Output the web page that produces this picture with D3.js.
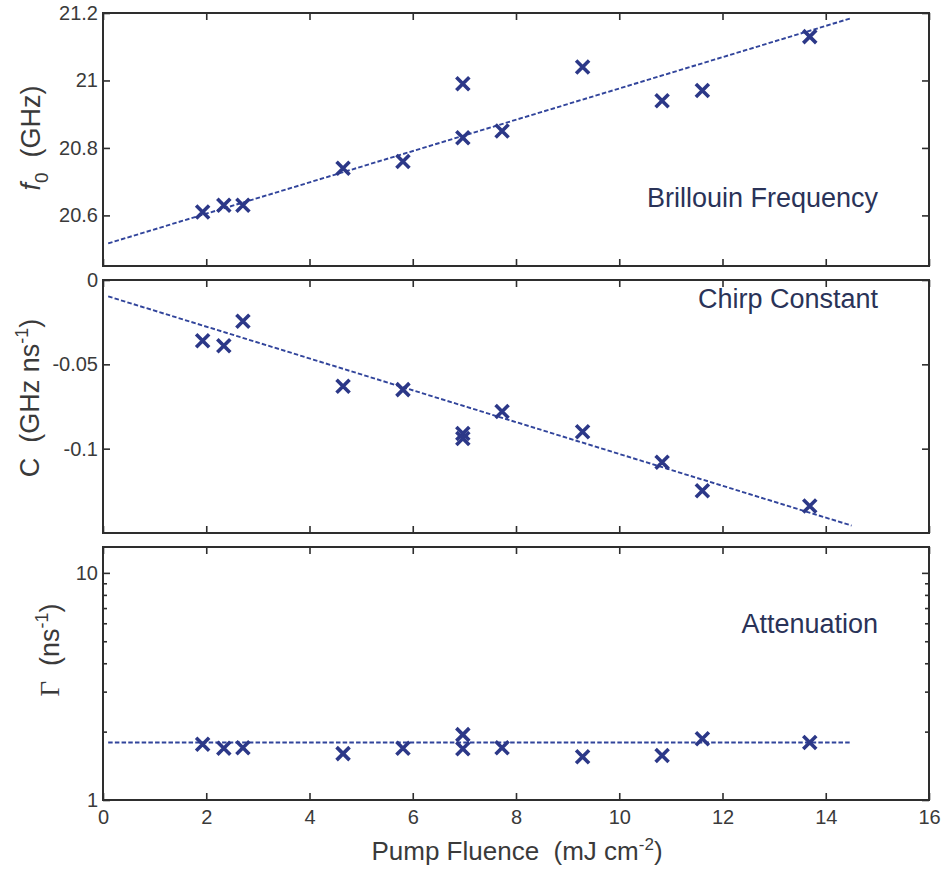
<!DOCTYPE html>
<html>
<head>
<meta charset="utf-8">
<script src="https://cdn.jsdelivr.net/npm/d3@7/dist/d3.min.js"></script>
<style>
  html, body { margin: 0; padding: 0; background: #fff; }
  svg { display: block; font-family: "Liberation Sans", Arial, Helvetica, sans-serif; }
  svg text { white-space: pre; }
</style>
</head>
<body>
<svg id="chart" width="946" height="869"></svg>
<script>
// Pump fluence (mJ cm^-2) for each measurement
const fluence = [1.93, 2.34, 2.71, 4.65, 5.81, 6.97, 6.97, 7.73, 9.29, 10.83, 11.61, 13.69];
// Brillouin frequency f0 (GHz)
const freq = [20.61, 20.63, 20.63, 20.74, 20.76, 20.99, 20.83, 20.85, 21.04, 20.94, 20.97, 21.13];
// Chirp constant C (GHz ns^-1)
const chirp = [-0.036, -0.039, -0.0245, -0.063, -0.065, -0.091, -0.094, -0.078, -0.090, -0.108, -0.125, -0.134];
// Attenuation Gamma (ns^-1)
const atten = [1.76, 1.69, 1.70, 1.60, 1.69, 1.94, 1.68, 1.70, 1.55, 1.57, 1.86, 1.79];

// Linear fit lines (end points)
const fitX = [0.1, 14.5];
const fitFreq = [20.517, 21.185];
const fitChirp = [-0.0097, -0.1456];
const fitAtten = [1.79, 1.79];

// Tick values and labels
const xTicks = [0, 2, 4, 6, 8, 10, 12, 14, 16];
const freqTicks = [20.6, 20.8, 21, 21.2];
const freqTickLabels = ["20.6", "20.8", "21", "21.2"];
const chirpTicks = [0, -0.05, -0.1];
const chirpTickLabels = ["0", "-0.05", "-0.1"];
const attenTicks = [1, 10];
const attenTickLabels = ["1", "10"];
const attenMinor = [2, 3, 4, 5, 6, 7, 8, 9];

const panelLabels = ["Brillouin Frequency", "Chirp Constant", "Attenuation"];

const svg = d3.select("#chart");
const markColor = "#2c3888";
const lineColor = "#31449b";
const axisColor = "#2e2e2e";
const textColor = "#3a3a3a";
const labelColor = "#2a3358";

const left = 103, right = 929, panelH = 253;
const tops = [13, 280, 547];
const tickLen = 7, minorLen = 4;

const x = d3.scaleLinear().domain([0, 16]).range([left, right]);

const panels = [
  { y: d3.scaleLinear().domain([20.45, 21.2]), vals: freq, fit: fitFreq,
    ticks: freqTicks, tickLabels: freqTickLabels, minor: [], label: panelLabels[0],
    labelPos: [878, 207] },
  { y: d3.scaleLinear().domain([-0.15, 0]), vals: chirp, fit: fitChirp,
    ticks: chirpTicks, tickLabels: chirpTickLabels, minor: [], label: panelLabels[1],
    labelPos: [878, 308] },
  { y: d3.scaleLog().domain([1, 13]), vals: atten, fit: fitAtten,
    ticks: attenTicks, tickLabels: attenTickLabels, minor: attenMinor, label: panelLabels[2],
    labelPos: [878, 633] }
];

panels.forEach((p, i) => {
  const top = tops[i], bottom = top + panelH;
  p.y.range([bottom, top]);
  const g = svg.append("g");

  // y axis left (ticks pointing inward)
  const yl = d3.axisLeft(p.y).tickValues(p.ticks)
    .tickFormat((d, k) => p.tickLabels[k]).tickSizeInner(-tickLen).tickSizeOuter(0).tickPadding(5);
  g.append("g").attr("transform", `translate(${left},0)`).call(yl);
  // y axis right
  g.append("g").attr("transform", `translate(${right},0)`)
    .call(d3.axisRight(p.y).tickValues(p.ticks).tickFormat("").tickSizeInner(-tickLen).tickSizeOuter(0));
  // minor log ticks
  if (p.minor.length) {
    g.append("g").attr("transform", `translate(${left},0)`)
      .call(d3.axisLeft(p.y).tickValues(p.minor).tickFormat("").tickSizeInner(-minorLen).tickSizeOuter(0));
    g.append("g").attr("transform", `translate(${right},0)`)
      .call(d3.axisRight(p.y).tickValues(p.minor).tickFormat("").tickSizeInner(-minorLen).tickSizeOuter(0));
  }
  // x axis bottom and top
  const xb = d3.axisBottom(x).tickValues(xTicks).tickSizeInner(-tickLen).tickSizeOuter(0).tickPadding(10)
    .tickFormat(i === 2 ? d3.format("d") : "");
  g.append("g").attr("transform", `translate(0,${bottom})`).call(xb);
  g.append("g").attr("transform", `translate(0,${top})`)
    .call(d3.axisTop(x).tickValues(xTicks).tickFormat("").tickSizeInner(-tickLen).tickSizeOuter(0));

  // frame
  g.append("rect").attr("x", left).attr("y", top).attr("width", right - left).attr("height", panelH)
    .attr("fill", "none").attr("stroke", axisColor).attr("stroke-width", 2);

  // fit line
  g.append("line")
    .attr("x1", x(fitX[0])).attr("y1", p.y(p.fit[0]))
    .attr("x2", x(fitX[1])).attr("y2", p.y(p.fit[1]))
    .attr("stroke", lineColor).attr("stroke-width", 1.9).attr("stroke-dasharray", "4.5,2.2");

  // cross markers
  const s = 6.5;
  g.append("g").selectAll("path").data(fluence).join("path")
    .attr("d", (d, k) => {
      const cx = x(d), cy = p.y(p.vals[k]);
      return `M${cx - s},${cy - s}L${cx + s},${cy + s}M${cx - s},${cy + s}L${cx + s},${cy - s}`;
    })
    .attr("stroke", markColor).attr("stroke-width", 3.6).attr("fill", "none");

  // panel label
  g.append("text").attr("x", p.labelPos[0]).attr("y", p.labelPos[1])
    .attr("text-anchor", "end").attr("fill", labelColor).attr("font-size", 27)
    .text(p.label);
});

// axis styling
svg.selectAll(".domain").remove();
svg.selectAll(".tick line").attr("stroke", axisColor).attr("stroke-width", 1.6);
svg.selectAll(".tick text").attr("fill", textColor).attr("font-size", 20);

// x axis title
const xt = svg.append("text").attr("x", 517).attr("y", 860).attr("text-anchor", "middle")
  .attr("fill", textColor).attr("font-size", 26);
xt.append("tspan").text("Pump Fluence  (mJ cm");
xt.append("tspan").attr("dy", -10).attr("font-size", 17).text("-2");
xt.append("tspan").attr("dy", 10).text(")");

// y axis titles
const yt1 = svg.append("text").attr("transform", "translate(40,138) rotate(-90)")
  .attr("text-anchor", "middle").attr("fill", textColor).attr("font-size", 27);
yt1.append("tspan").attr("font-style", "italic").text("f");
yt1.append("tspan").attr("dy", 8).attr("font-size", 19).text("0");
yt1.append("tspan").attr("dy", -8).text("  (GHz)");

const yt2 = svg.append("text").attr("transform", "translate(39,398) rotate(-90)")
  .attr("text-anchor", "middle").attr("fill", textColor).attr("font-size", 27);
yt2.append("tspan").text("C  (GHz ns");
yt2.append("tspan").attr("dy", -11).attr("font-size", 18).text("-1");
yt2.append("tspan").attr("dy", 11).text(")");

const yt3 = svg.append("text").attr("transform", "translate(59,650) rotate(-90)")
  .attr("text-anchor", "middle").attr("fill", textColor).attr("font-size", 27);
yt3.append("tspan").attr("font-family", "Liberation Serif, Times New Roman, serif").text("Γ");
yt3.append("tspan").text("  (ns");
yt3.append("tspan").attr("dy", -11).attr("font-size", 18).text("-1");
yt3.append("tspan").attr("dy", 11).text(")");
</script>
</body>
</html>
